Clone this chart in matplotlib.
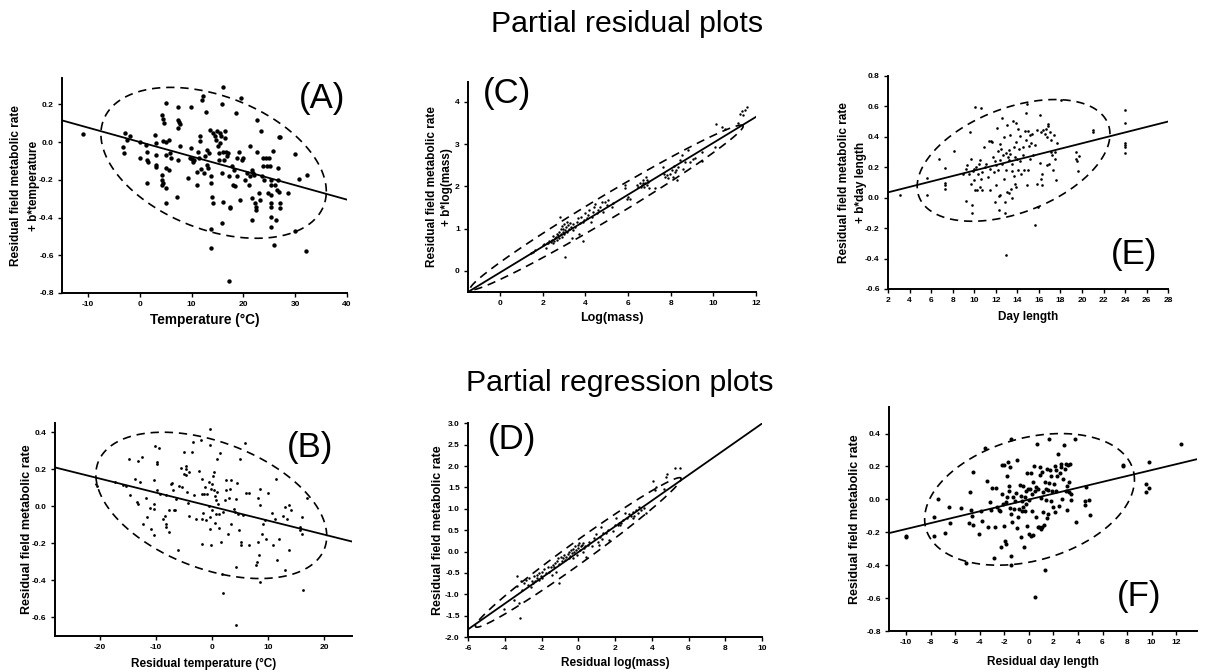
import numpy as np
import matplotlib.pyplot as plt

plt.rcParams['font.family'] = ['Liberation Sans', 'DejaVu Sans']
plt.rcParams['axes.unicode_minus'] = False

# (x, y) points for each panel
a_pts = [(-10.9, 0.042), (-3.3, -0.027), (-3.1, -0.058), (-2.9, 0.05), (-2.4, 0.01), (-1.9, 0.03),
         (0.0, 0.0), (0.1, -0.085), (1.2, -0.015), (1.4, -0.055), (1.4, -0.095), (1.4, -0.215),
         (1.5, -0.105), (3.0, 0.04), (3.2, -0.005), (3.1, -0.07), (3.2, -0.12), (3.2, -0.13),
         (4.3, 0.145), (4.4, 0.12), (4.6, 0.10), (4.4, 0.005), (4.3, -0.177), (4.3, -0.2),
         (4.4, -0.218), (4.2, -0.227), (5.1, 0.207), (5.0, 0.0), (5.1, -0.067), (5.1, -0.135),
         (5.1, -0.244), (5.1, -0.324), (5.6, 0.012), (5.8, -0.058), (5.6, -0.147), (6.0, -0.085),
         (7.3, 0.186), (7.3, 0.119), (7.5, 0.104), (7.7, 0.097), (7.4, 0.074), (7.7, -0.023),
         (7.2, -0.292), (7.4, -0.094), (9.4, -0.191), (9.9, 0.186), (9.9, -0.032), (9.7, -0.085),
         (10.0, -0.09), (10.3, -0.108), (10.4, -0.094), (11.0, -0.156), (11.2, -0.05), (11.5, -0.085),
         (11.7, 0.03), (11.7, 0.004), (11.9, -0.142), (12.1, 0.225), (12.2, 0.242), (11.0, -0.227),
         (12.4, -0.165), (12.8, 0.161), (12.6, -0.076), (12.9, -0.04), (13.0, -0.12), (13.1, -0.138),
         (13.3, -0.058), (13.5, 0.065), (13.7, -0.182), (13.8, -0.218), (13.9, -0.292), (14.1, -0.324),
         (13.7, -0.46), (13.7, -0.563), (14.2, 0.048), (14.6, 0.03), (14.8, 0.012), (14.9, 0.057),
         (15.0, -0.023), (15.2, -0.094), (15.2, -0.058), (15.4, 0.048), (15.5, -0.005), (15.7, 0.03),
         (15.9, 0.202), (16.0, 0.292), (16.0, -0.05), (16.2, -0.094), (15.8, -0.165), (16.0, -0.315),
         (15.8, -0.427), (16.5, 0.057), (16.5, 0.021), (16.7, -0.05), (16.8, -0.076), (17.1, -0.058),
         (17.3, -0.182), (17.4, -0.342), (17.4, -0.35), (17.2, -0.738), (17.8, -0.129), (17.9, -0.227),
         (18.1, -0.147), (18.4, -0.235), (18.6, 0.154), (18.7, -0.085), (18.8, -0.182), (19.2, -0.05),
         (19.4, -0.306), (19.5, 0.234), (19.7, -0.094), (19.9, -0.085), (20.3, -0.2), (20.6, -0.165),
         (21.0, -0.227), (21.2, -0.023), (21.3, -0.182), (21.6, -0.147), (21.6, -0.412), (21.7, -0.297),
         (21.9, -0.165), (22.1, -0.173), (22.3, -0.324), (22.4, -0.342), (22.4, -0.36), (22.6, -0.05),
         (22.7, 0.115), (23.1, -0.271), (23.2, -0.306), (23.3, 0.057), (23.5, -0.182), (23.7, -0.085),
         (23.8, -0.126), (24.0, -0.2), (24.4, -0.085), (24.5, -0.129), (24.7, -0.271), (25.0, -0.085),
         (25.1, -0.129), (25.3, -0.227), (25.3, -0.324), (25.3, -0.342), (25.3, -0.395), (25.3, -0.451),
         (25.4, -0.2), (25.4, -0.28), (25.8, -0.046), (25.9, -0.545), (26.1, -0.227), (26.3, -0.412),
         (26.4, -0.253), (26.6, -0.2), (26.7, -0.138), (26.8, -0.262), (26.8, 0.027), (27.0, 0.027),
         (27.1, -0.324), (27.1, -0.35), (28.7, -0.271), (29.9, -0.062), (29.9, -0.474), (30.8, -0.195),
         (32.2, -0.173), (32.1, -0.58)]

b_pts = [(-20.7, 0.118), (-20.5, 0.108), (-17.3, 0.129), (-15.8, 0.113), (-15.3, 0.108), (-14.7, 0.255),
         (-14.6, 0.063), (-13.8, 0.145), (-13.3, 0.022), (-13.2, 0.014), (-13.1, 0.244), (-12.9, 0.131),
         (-12.5, 0.266), (-12.2, -0.093), (-11.8, 0.043), (-11.6, -0.057), (-11.0, -0.009), (-10.9, -0.12),
         (-10.4, 0.14), (-10.4, 0.014), (-10.4, -0.156), (-10.3, -0.013), (-10.1, 0.323), (-9.8, 0.086),
         (-9.8, 0.239), (-9.8, 0.23), (-9.4, 0.316), (-9.2, 0.065), (-8.8, -0.066), (-8.3, -0.05),
         (-8.2, 0.059), (-8.2, -0.093), (-8.2, -0.111), (-7.7, -0.022), (-7.6, -0.138), (-7.3, 0.118),
         (-7.1, 0.126), (-7.0, 0.086), (-6.8, -0.022), (-6.5, -0.018), (-6.4, 0.041), (-6.0, -0.237),
         (-5.9, 0.108), (-5.5, 0.208), (-5.3, 0.104), (-5.0, 0.293), (-5.0, 0.176), (-4.7, 0.215),
         (-4.6, 0.203), (-4.6, 0.167), (-4.4, 0.077), (-4.3, 0.018), (-4.1, 0.185), (-4.0, -0.05),
         (-3.5, 0.291), (-3.4, 0.346), (-3.2, 0.059), (-2.9, -0.066), (-2.3, 0.19), (-1.9, 0.359),
         (-1.8, 0.149), (-1.8, 0.068), (-1.7, -0.205), (-1.7, -0.068), (-1.6, -0.036), (-1.4, 0.068),
         (-1.3, 0.104), (-1.1, -0.075), (-0.8, 0.068), (-0.6, 0.004), (-0.5, 0.131), (-0.4, 0.418),
         (-0.4, 0.332), (-0.4, -0.057), (-0.3, -0.12), (-0.2, -0.21), (-0.1, 0.093), (0.0, 0.118),
         (0.0, -0.022), (0.2, 0.165), (0.3, 0.086), (0.4, 0.185), (0.5, 0.057), (0.5, -0.09),
         (0.7, 0.036), (0.8, -0.039), (0.9, 0.257), (1.0, 0.077), (1.1, 0.014), (1.2, -0.115),
         (1.3, -0.039), (1.4, 0.287), (1.6, -0.192), (1.8, -0.368), (1.9, -0.47), (2.0, -0.031),
         (2.3, 0.032), (2.5, 0.086), (2.6, 0.144), (2.8, -0.151), (3.0, 0.047), (3.2, 0.095),
         (3.4, 0.144), (3.5, -0.093), (4.0, -0.014), (4.1, -0.031), (4.3, 0.038), (4.3, -0.327),
         (4.3, -0.641), (4.4, 0.126), (4.7, -0.039), (4.9, -0.129), (5.0, 0.257), (5.2, -0.192),
         (5.2, -0.21), (5.6, -0.048), (5.9, 0.343), (6.1, 0.072), (6.7, 0.072), (6.7, -0.21),
         (7.9, -0.318), (8.0, -0.3), (8.2, -0.192), (8.3, 0.047), (8.5, 0.005), (8.4, -0.264),
         (8.6, 0.093), (8.6, -0.408), (8.9, -0.147), (9.1, -0.097), (9.5, -0.075), (9.7, -0.174),
         (10.0, 0.072), (10.7, -0.034), (10.9, -0.21), (11.2, -0.066), (11.5, 0.149), (11.6, -0.291),
         (11.9, -0.174), (12.7, -0.054), (13.0, -0.345), (13.1, -0.004), (13.4, -0.066), (13.7, 0.005),
         (13.8, -0.237), (14.1, -0.022), (15.8, -0.111), (15.8, -0.129), (16.0, -0.147), (16.1, -0.057),
         (16.2, -0.452), (17.0, 0.047)]

c_pts = [(1.44, 0.43), (1.53, 0.45), (1.64, 0.49), (2.0, 0.61), (2.06, 0.63), (2.14, 0.53), (2.19, 0.66),
         (2.27, 0.65), (2.31, 0.71), (2.38, 0.69), (2.42, 0.74), (2.47, 0.65), (2.5, 0.82), (2.55, 0.71),
         (2.58, 0.77), (2.63, 0.8), (2.66, 0.88), (2.69, 0.73), (2.73, 0.84), (2.75, 0.92), (2.78, 0.77),
         (2.81, 1.28), (2.84, 0.88), (2.88, 0.98), (2.89, 1.06), (2.92, 0.8), (2.94, 0.92), (2.97, 1.0),
         (3.0, 1.1), (3.02, 0.88), (3.05, 0.33), (3.06, 0.96), (3.09, 1.04), (3.13, 1.16), (3.16, 0.92),
         (3.2, 1.08), (3.23, 1.0), (3.28, 1.14), (3.31, 1.04), (3.36, 0.77), (3.41, 0.96), (3.44, 1.1),
         (3.52, 1.04), (3.59, 1.16), (3.64, 1.24), (3.69, 0.88), (3.75, 1.14), (3.81, 1.28), (3.88, 0.71),
         (3.91, 1.16), (3.95, 1.21), (4.0, 1.36), (4.06, 1.24), (4.14, 1.32), (4.19, 1.44), (4.25, 1.16),
         (4.3, 1.28), (4.34, 1.4), (4.41, 1.51), (4.45, 1.59), (4.53, 1.36), (4.61, 1.44), (4.69, 1.51),
         (4.77, 1.63), (4.84, 1.4), (4.92, 1.63), (5.0, 1.55), (5.08, 1.67), (5.23, 1.51), (5.31, 1.61),
         (5.86, 2.03), (5.86, 1.95), (5.94, 1.71), (6.02, 1.75), (6.09, 1.71), (6.41, 2.03), (6.48, 1.99),
         (6.56, 2.07), (6.59, 1.99), (6.64, 2.03), (6.69, 2.08), (6.72, 2.15), (6.75, 1.99), (6.8, 2.07),
         (6.84, 2.22), (6.88, 2.03), (6.91, 2.16), (6.95, 2.11), (7.0, 1.95), (7.27, 1.95), (7.66, 2.46),
         (7.69, 2.29), (7.73, 2.22), (7.81, 2.26), (7.89, 2.19), (7.97, 2.3), (8.05, 2.38), (8.09, 2.21),
         (8.16, 2.48), (8.2, 2.34), (8.25, 2.38), (8.28, 2.15), (8.36, 2.46), (8.44, 2.62), (8.52, 2.74),
         (8.59, 2.41), (8.67, 2.58), (8.83, 2.86), (8.91, 2.58), (9.03, 2.64), (9.14, 2.68), (9.45, 2.6),
         (9.45, 2.82), (10.08, 2.93), (10.13, 3.47), (10.39, 3.41), (10.55, 3.35), (11.17, 3.49),
         (11.25, 3.72), (11.33, 3.79), (11.41, 3.68), (11.48, 3.8), (11.56, 3.87)]

d_pts = [(-4.04, -1.35), (-3.49, -1.13), (-3.36, -0.58), (-3.31, -0.8), (-3.22, -1.21), (-3.18, -1.56),
         (-3.13, -0.68), (-3.04, -0.9), (-2.95, -0.74), (-2.85, -0.66), (-2.76, -0.78), (-2.67, -0.62),
         (-2.58, -0.82), (-2.53, -0.7), (-2.49, -0.74), (-2.4, -0.58), (-2.35, -0.68), (-2.27, -0.62),
         (-2.22, -0.55), (-2.16, -0.66), (-2.13, -0.49), (-2.04, -0.58), (-1.98, -0.47), (-1.95, -0.62),
         (-1.85, -0.41), (-1.76, -0.51), (-1.67, -0.37), (-1.58, -0.47), (-1.49, -0.35), (-1.44, -0.55),
         (-1.4, -0.31), (-1.31, -0.37), (-1.25, -0.27), (-1.22, -0.47), (-1.18, -0.23), (-1.13, -0.16),
         (-1.07, -0.74), (-1.04, -0.29), (-0.95, -0.12), (-0.89, -0.23), (-0.85, -0.16), (-0.76, -0.08),
         (-0.71, -0.19), (-0.67, -0.12), (-0.58, -0.05), (-0.53, -0.16), (-0.49, 0.0), (-0.44, -0.1),
         (-0.4, 0.04), (-0.35, -0.04), (-0.31, -0.16), (-0.27, 0.05), (-0.22, 0.0), (-0.16, 0.12),
         (-0.13, 0.04), (-0.09, -0.08), (-0.04, 0.16), (0.0, 0.08), (0.05, 0.19), (0.09, 0.04),
         (0.15, 0.12), (0.2, 0.16), (0.24, 0.0), (0.27, 0.21), (0.33, 0.08), (0.38, 0.12), (0.42, -0.12),
         (0.51, 0.16), (0.6, 0.23), (0.75, 0.12), (0.87, 0.31), (0.96, 0.41), (1.09, 0.23), (1.15, 0.16),
         (1.2, 0.35), (1.24, 0.58), (1.29, 0.29), (1.36, 0.43), (1.51, 0.43), (1.6, 0.51), (1.69, 0.27),
         (1.87, 0.49), (2.02, 0.62), (2.05, 0.78), (2.15, 0.62), (2.2, 0.66), (2.27, 0.62), (2.33, 0.66),
         (2.42, 0.74), (2.56, 0.9), (2.65, 0.78), (2.78, 0.88), (2.87, 0.83), (2.96, 0.93), (3.0, 0.78),
         (3.05, 0.83), (3.15, 0.97), (3.24, 0.9), (3.33, 1.04), (3.42, 0.97), (3.6, 1.01), (3.69, 0.9),
         (4.05, 1.66), (4.15, 1.44), (4.24, 1.52), (4.69, 1.46), (4.78, 1.75), (4.82, 1.81), (5.24, 1.95),
         (5.51, 1.95)]

e_pts = [(3.15, 0.015), (5.62, 0.13), (5.65, 0.015), (6.74, 0.257), (7.33, 0.198), (7.33, 0.097),
         (7.33, 0.081), (7.33, 0.055), (8.13, 0.305), (8.97, 0.158), (9.21, 0.191), (9.28, -0.024),
         (9.37, 0.213), (9.49, 0.158), (9.65, 0.429), (9.74, 0.088), (9.74, 0.257), (9.8, -0.051),
         (9.8, -0.101), (9.89, 0.176), (9.96, 0.114), (10.02, 0.191), (10.08, 0.593), (10.11, 0.048),
         (10.2, 0.202), (10.27, 0.048), (10.36, 0.158), (10.42, 0.224), (10.51, 0.07), (10.58, 0.246),
         (10.64, 0.587), (10.67, 0.125), (10.73, 0.169), (10.76, 0.048), (10.89, 0.33), (11.01, 0.202),
         (11.13, 0.224), (11.29, 0.136), (11.38, 0.374), (11.44, 0.048), (11.5, 0.191), (11.6, 0.374),
         (11.69, 0.367), (11.75, 0.268), (11.81, 0.169), (11.91, 0.242), (11.94, -0.029), (12.0, 0.213),
         (12.06, 0.081), (12.12, 0.455), (12.19, 0.308), (12.22, 0.18), (12.28, 0.009), (12.31, -0.084),
         (12.37, 0.246), (12.37, 0.352), (12.43, 0.015), (12.5, 0.323), (12.56, 0.521), (12.62, 0.22),
         (12.68, 0.279), (12.74, 0.125), (12.8, 0.4), (12.84, -0.029), (12.9, -0.101), (12.93, 0.295),
         (12.96, -0.374), (12.99, 0.18), (13.05, 0.477), (13.08, 0.037), (13.15, 0.268), (13.18, 0.312),
         (13.21, 0.246), (13.24, 0.031), (13.3, 0.411), (13.36, 0.29), (13.39, 0.059), (13.46, 0.224),
         (13.52, 0.174), (13.55, 0.0), (13.61, 0.506), (13.67, 0.334), (13.7, 0.141), (13.77, 0.264),
         (13.8, 0.092), (13.86, 0.07), (13.92, 0.488), (13.92, 0.367), (13.98, 0.257), (14.07, 0.18),
         (14.07, 0.448), (14.17, 0.323), (14.23, 0.242), (14.29, 0.404), (14.38, 0.154), (14.48, 0.279),
         (14.54, 0.334), (14.63, 0.18), (14.69, 0.44), (14.79, 0.382), (14.82, 0.558), (14.91, 0.081),
         (14.94, 0.615), (14.97, 0.437), (15.0, 0.18), (15.1, 0.338), (15.16, 0.411), (15.22, 0.257),
         (15.28, 0.36), (15.34, 0.418), (15.47, 0.279), (15.62, 0.345), (15.65, -0.182), (15.78, 0.444),
         (15.84, 0.092), (15.93, -0.062), (16.09, 0.229), (16.15, 0.543), (16.21, 0.433), (16.24, 0.125),
         (16.27, 0.081), (16.33, 0.154), (16.4, 0.444), (16.55, 0.418), (16.64, 0.448), (16.71, 0.4),
         (16.77, 0.213), (16.86, 0.47), (16.89, 0.484), (16.95, 0.22), (17.02, 0.433), (17.08, 0.301),
         (17.17, 0.382), (17.26, 0.279), (17.33, 0.18), (17.39, 0.411), (17.48, 0.257), (17.51, 0.301),
         (17.63, 0.114), (17.7, 0.356), (18.01, 0.642), (19.43, 0.301), (19.49, 0.257), (19.56, 0.242),
         (19.62, 0.176), (19.68, 0.273), (21.0, 0.444), (21.0, 0.433), (23.95, 0.576), (23.95, 0.488),
         (23.95, 0.36), (23.95, 0.345), (23.95, 0.33), (23.95, 0.295)]

f_pts = [(-10.05, -0.22), (-10.05, -0.23), (-7.77, -0.109), (-7.77, -0.22), (-7.4, 0.0), (-6.88, -0.202),
         (-6.52, -0.044), (-6.47, -0.145), (-5.57, -0.054), (-5.16, -0.385), (-4.89, -0.145), (-4.81, 0.044),
         (-4.7, -0.065), (-4.65, -0.099), (-4.54, -0.155), (-4.54, 0.165), (-4.08, -0.21), (-3.94, -0.069),
         (-3.8, -0.133), (-3.61, 0.31), (-3.45, 0.109), (-3.34, -0.169), (-3.18, -0.018), (-3.13, -0.065),
         (-2.99, 0.067), (-2.85, -0.357), (-2.77, -0.169), (-2.66, 0.067), (-2.58, -0.048), (-2.45, -0.063),
         (-2.36, -0.069), (-2.31, -0.29), (-2.23, 0.21), (-2.17, 0.032), (-2.12, -0.028), (-2.07, 0.21),
         (-2.04, -0.159), (-1.98, -0.254), (-1.9, -0.018), (-1.85, -0.27), (-1.79, 0.143), (-1.77, 0.016),
         (-1.71, 0.23), (-1.66, 0.081), (-1.6, 0.052), (-1.55, 0.198), (-1.55, -0.052), (-1.49, -0.089),
         (-1.49, 0.365), (-1.47, -0.345), (-1.44, -0.397), (-1.39, -0.139), (-1.28, 0.016), (-1.22, -0.058),
         (-1.11, -0.012), (-1.06, 0.036), (-1.0, 0.238), (-0.95, -0.173), (-0.9, -0.109), (-0.82, -0.058),
         (-0.73, 0.089), (-0.68, -0.226), (-0.63, 0.022), (-0.57, -0.012), (-0.54, -0.069), (-0.49, 0.083),
         (-0.46, -0.048), (-0.41, -0.29), (-0.35, -0.069), (-0.3, 0.012), (-0.27, 0.052), (-0.22, -0.028),
         (-0.16, 0.163), (-0.14, -0.159), (-0.08, 0.063), (-0.03, -0.21), (0.03, -0.004), (0.08, 0.063),
         (0.14, 0.163), (0.19, -0.22), (0.24, 0.032), (0.27, -0.069), (0.33, -0.214), (0.35, 0.103),
         (0.41, 0.204), (0.46, -0.593), (0.49, 0.052), (0.54, -0.109), (0.6, 0.077), (0.68, 0.339),
         (0.71, -0.169), (0.76, 0.063), (0.82, -0.165), (0.87, 0.149), (0.92, 0.194), (0.95, -0.179),
         (1.01, 0.008), (1.06, 0.169), (1.09, -0.169), (1.14, 0.042), (1.17, -0.079), (1.22, -0.153),
         (1.28, 0.103), (1.3, -0.427), (1.36, 0.063), (1.41, -0.004), (1.44, 0.183), (1.49, -0.113),
         (1.55, 0.056), (1.58, -0.089), (1.63, 0.097), (1.66, 0.365), (1.71, 0.177), (1.77, -0.012),
         (1.82, 0.143), (1.9, 0.052), (1.98, -0.044), (2.04, 0.093), (2.09, 0.204), (2.15, -0.075),
         (2.17, 0.177), (2.23, 0.048), (2.31, 0.141), (2.39, 0.274), (2.45, -0.038), (2.53, 0.163),
         (2.58, 0.194), (2.64, 0.218), (2.72, 0.002), (2.8, 0.123), (2.85, 0.331), (2.91, 0.183),
         (2.99, 0.218), (3.04, 0.048), (3.07, -0.065), (3.13, 0.083), (3.18, 0.21), (3.26, 0.103),
         (3.29, 0.042), (3.34, 0.218), (3.4, 0.032), (3.45, -0.004), (3.78, 0.365), (3.8, -0.139),
         (4.54, -0.008), (4.57, -0.034), (4.62, 0.073), (4.86, -0.004), (4.97, -0.093), (7.66, 0.208),
         (7.69, 0.2), (9.51, 0.093), (9.51, 0.042), (9.78, 0.069), (9.78, 0.228), (12.42, 0.339)]

# fitted line: point on line and slope
a_line = [(-15, 0.115), -0.00764]
b_line = [(-28, 0.21), -0.00755]
c_line = [(-1.5, -0.5), 0.307]
d_line = [(-6, -1.82), 0.301]
e_line = [(2, 0.035), 0.0179]
f_line = [(-11.4, -0.205), 0.0179]

# 95% ellipse: centre x, centre y, half extent x, half extent y, correlation
a_ell = [14.25, -0.11, 21.75, 0.40, -0.38]
b_ell = [-0.1, 0.005, 20.6, 0.395, -0.42]
c_ell = [5.0, 1.5, 6.4, 1.95, 0.986]
d_ell = [0.0, -0.02, 5.6, 1.75, 0.985]
e_ell = [13.65, 0.245, 8.95, 0.40, 0.43]
f_ell = [0.05, 0.0, 8.55, 0.40, 0.30]

# tick values
a_xt = [-10, 0, 10, 20, 30, 40]
a_yt = [-0.8, -0.6, -0.4, -0.2, 0.0, 0.2]
b_xt = [-20, -10, 0, 10, 20]
b_yt = [-0.6, -0.4, -0.2, 0.0, 0.2, 0.4]
c_xt = [0, 2, 4, 6, 8, 10, 12]
c_yt = [0, 1, 2, 3, 4]
d_xt = [-6, -4, -2, 0, 2, 4, 6, 8, 10]
d_yt = [-2.0, -1.5, -1.0, -0.5, 0.0, 0.5, 1.0, 1.5, 2.0, 2.5, 3.0]
e_xt = [2, 4, 6, 8, 10, 12, 14, 16, 18, 20, 22, 24, 26, 28]
e_yt = [-0.6, -0.4, -0.2, 0.0, 0.2, 0.4, 0.6, 0.8]
f_xt = [-10, -8, -6, -4, -2, 0, 2, 4, 6, 8, 10, 12]
f_yt = [-0.8, -0.6, -0.4, -0.2, 0.0, 0.2, 0.4]

fig = plt.figure(figsize=(12.05, 6.72), dpi=100)


def panel(rect, pts, line, ell, ms, xlim, ylim, xticks, yticks, yfmt,
          xlabel, ylabel, xfs, yfs, ls, tag, tagpos, lab_x, lab_y):
    ax = fig.add_axes(rect)
    x, y = np.array(pts).T
    ax.scatter(x, y, s=ms, c='black', linewidths=0, zorder=3)
    ax.axline(line[0], slope=line[1], color='black', lw=1.3)
    cx, cy, hx, hy, r = ell
    t = np.linspace(0, 2 * np.pi, 400)
    ex = cx + hx * np.cos(t)
    ey = cy + hy * (r * np.cos(t) + np.sqrt(1 - r ** 2) * np.sin(t))
    ax.plot(ex, ey, color='black', lw=1.2, linestyle=(0, (5, 3.5)))
    ax.set_xlim(xlim)
    ax.set_ylim(ylim)
    ax.set_xticks(xticks)
    ax.set_yticks(yticks)
    ax.set_yticklabels([yfmt.format(v) for v in yticks])
    for s in ['top', 'right']:
        ax.spines[s].set_visible(False)
    for s in ['left', 'bottom']:
        ax.spines[s].set_linewidth(1.4)
    ax.tick_params(direction='out', length=3, width=1, labelsize=6, pad=3)
    for lb in ax.get_xticklabels() + ax.get_yticklabels():
        lb.set_fontweight('bold')
    ax.set_xlabel(xlabel, fontsize=xfs, fontweight='bold', va='center')
    ax.set_ylabel(ylabel, fontsize=yfs, fontweight='bold', va='center',
                  linespacing=ls)
    ax.xaxis.set_label_coords(0.5, lab_y)
    ax.yaxis.set_label_coords(lab_x, 0.5)
    ax.text(tagpos[0], tagpos[1], tag, transform=ax.transAxes, fontsize=25,
            ha='center', va='center')
    return ax


panel([0.0515, 0.564, 0.2365, 0.320], a_pts, a_line, a_ell, 10,
      (-15, 40), (-0.8, 0.34), a_xt, a_yt, '{:.1f}',
      'Temperature (\u00b0C)', 'Residual field metabolic rate\n+ b*temperature', 9.8, 8.5, 1.7,
      '(A)', (0.912, 0.905), -0.13, -0.126)

panel([0.3884, 0.5655, 0.239, 0.3125], c_pts, c_line, c_ell, 3,
      (-1.5, 12), (-0.5, 4.47), c_xt, c_yt, '{:.0f}',
      'Log(mass)', 'Residual field metabolic rate\n+ b*log(mass)', 9, 8.5, 1.35,
      '(C)', (0.135, 0.945), -0.1, -0.124)

panel([0.737, 0.570, 0.2324, 0.317], e_pts, e_line, e_ell, 3.6,
      (2, 28), (-0.6, 0.8), e_xt, e_yt, '{:.1f}',
      'Day length', 'Residual field metabolic rate\n+ b*day length', 8.5, 8.5, 1.5,
      '(E)', (0.879, 0.16), -0.127, -0.131)

panel([0.0456, 0.0536, 0.2465, 0.317], b_pts, b_line, b_ell, 4,
      (-28, 25), (-0.7, 0.45), b_xt, b_yt, '{:.1f}',
      'Residual temperature (\u00b0C)', 'Residual field metabolic rate', 8.5, 9, 1.2,
      '(B)', (0.859, 0.887), -0.094, -0.131)

panel([0.3884, 0.052, 0.244, 0.318], d_pts, d_line, d_ell, 3,
      (-6, 10), (-2.0, 3.0), d_xt, d_yt, '{:.1f}',
      'Residual log(mass)', 'Residual field metabolic rate', 8.5, 9, 1.2,
      '(D)', (0.15, 0.925), -0.102, -0.121)

panel([0.7378, 0.061, 0.2556, 0.333], f_pts, f_line, f_ell, 8.5,
      (-11.4, 13.7), (-0.8, 0.56), f_xt, f_yt, '{:.1f}',
      'Residual day length', 'Residual field metabolic rate', 8.5, 9, 1.2,
      '(F)', (0.812, 0.152), -0.110, -0.138)

fig.text(0.52, 0.965, 'Partial residual plots', fontsize=21.8, ha='center', va='center')
fig.text(0.5145, 0.430, 'Partial regression plots', fontsize=21.8, ha='center', va='center')

fig.savefig('out.png', dpi=100)
